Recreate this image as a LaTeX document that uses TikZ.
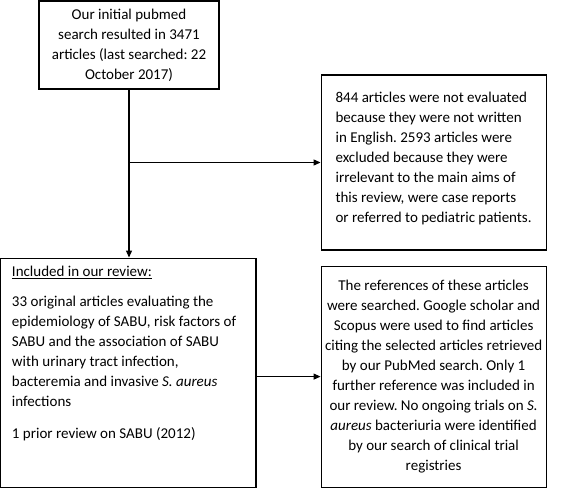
\documentclass[tikz,border=0pt]{standalone}
\usepackage{fontspec}
\setmainfont{Carlito}
\usetikzlibrary{arrows.meta,positioning}
\frenchspacing

\begin{document}
\begin{tikzpicture}[x=1bp,y=-1bp,>={Triangle[length=7bp,width=6bp]},
  font=\fontsize{15bp}{20bp}\selectfont,
  box/.style={draw,line width=1.1bp,inner sep=0pt},
  flow/.style={->,line width=1.1bp}]
\useasboundingbox (0,0) rectangle (568,488);
\node[box,minimum width=180bp,minimum height=88bp,align=center] (init) at (129,45)
  {Our initial pubmed\\ search resulted in 3471\\ articles (last searched: 22\\ October 2017)};
\node[box,minimum width=225bp,minimum height=175bp,align=left,right=101bp of init,yshift=-117.5bp] (excl)
  {844 articles were not evaluated\\ because they were not written\\ in English. 2593 articles were\\ excluded because they were\\ irrelevant to the main aims of\\ this review, were case reports\\ or referred to pediatric patients.\\[-10bp]};
\node[box,inner xsep=12bp,inner ysep=8bp,below=168bp of init,xshift=-1bp] (incl)
  {\parbox[c][213bp][t]{232bp}{\raggedright
   \underline{Included in our review:}\\[10bp]
   33 original articles evaluating the\\ epidemiology of SABU, risk factors of\\ SABU and the association of SABU\\ with urinary tract infection,\\ bacteremia and invasive \textit{S. aureus}\\ infections\\[12bp]
   1 prior review on SABU (2012)}};
\node[box,minimum width=225bp,minimum height=221bp,align=center,right=64bp of incl,yshift=-4bp] (refs)
  {The references of these articles\\ were searched. Google scholar and\\ Scopus were used to find articles\\ citing the selected articles retrieved\\ by our PubMed search. Only 1\\ further reference was included in\\ our review. No ongoing trials on \textit{S.}\\ \textit{aureus} bacteriuria were identified\\ by our search of clinical trial\\ registries};
\coordinate (split) at (init |- excl);
\draw[flow] (init) -- (init |- incl.north);
\draw[flow] (split) -- (excl);
\draw[flow] (incl.east |- refs) -- (refs);
\end{tikzpicture}
\end{document}
